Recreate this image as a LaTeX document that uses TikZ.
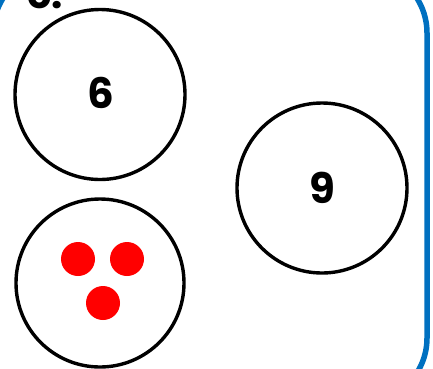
\documentclass[tikz,border=0pt]{standalone}
\usepackage{fontspec}
\newfontfamily\numfont{Poppins Bold}
\definecolor{frameblue}{RGB}{0,112,192}
\definecolor{dotred}{RGB}{255,0,0}
\tikzset{
  ring/.style={circle, draw=black, line width=3.4pt, minimum size=#1, inner sep=0pt},
  numlabel/.style={font=\fontsize{42}{42}\numfont, inner sep=0pt},
  dot/.style={circle, fill=dotred, minimum size=34pt, inner sep=0pt},
  frame/.style={draw=frameblue, line width=5.5pt, rounded corners=65pt}
}
\begin{document}
\begin{tikzpicture}[x=1pt,y=-1pt]
\useasboundingbox (0,0) rectangle (433,368);
\draw[frame] (-7,440) -- (-7,-32) -- (427,-32) -- (427,403) -- (-40,403);
\node[font=\fontsize{40}{40}\numfont, inner sep=0pt, anchor=base west] (lbl) at (27,8) {c.};
\node[ring=170pt] (c1) at (100,94.5) {};
\node[ring=168pt] (c2) at (100,283) {};
\node[ring=170pt] (c3) at (322,188) {};
\node[numlabel] (n6) at (101,93) {6};
\node[numlabel] (n9) at (322,188) {9};
\node[dot] (d1) at (78,259) {};
\node[dot] (d2) at (127,259) {};
\node[dot] (d3) at (103,303) {};
\end{tikzpicture}
\end{document}
